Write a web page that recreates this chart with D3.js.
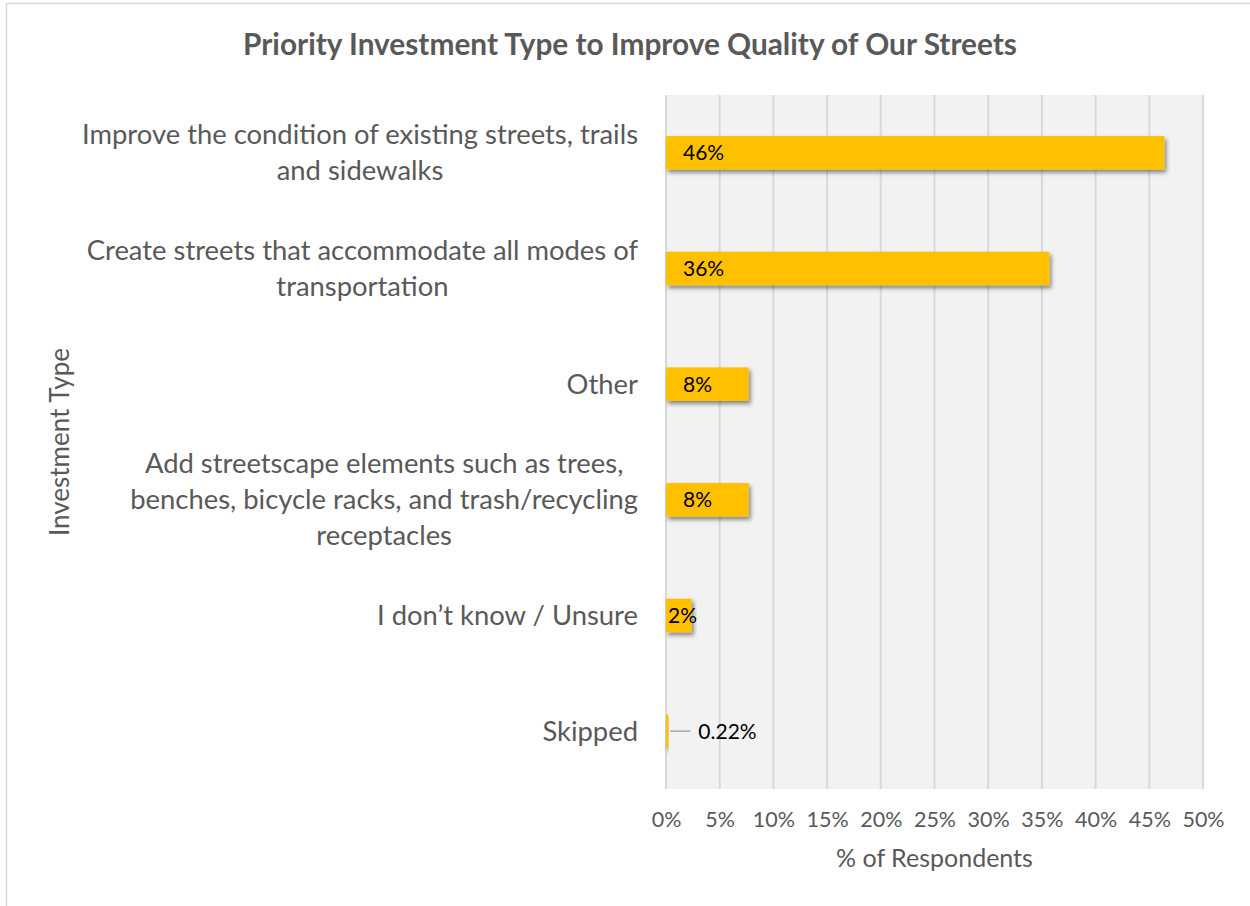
<!DOCTYPE html>
<html>
<head>
<meta charset="utf-8">
<script src="https://cdn.jsdelivr.net/npm/d3@7"></script>
<style>
  body { margin: 0; background: #fff; }
  svg { display: block; font-family: Lato, "Open Sans", sans-serif; }
</style>
</head>
<body>
<div id="chart"></div>
<script>
// chart data
var categoryLines = [
	["Improve the condition of existing streets, trails", "and sidewalks"],
	["Create streets that accommodate all modes of", "transportation"],
	["Other"],
	["Add streetscape elements such as trees,", "benches, bicycle racks, and trash/recycling", "receptacles"],
	["I don\u2019t know / Unsure"],
	["Skipped"]
];
var categories = categoryLines.map(function (l) { return l.join(" "); });
var values = [46.4, 35.7, 7.7, 7.7, 2.4, 0.22];
var valueLabels = ["46%", "36%", "8%", "8%", "2%", "0.22%"];
var xTicks = [0, 5, 10, 15, 20, 25, 30, 35, 40, 45, 50];

var W = 1250, H = 906;
var textColor = "#595959";
var plot = { left: 666, right: 1203, top: 95, bottom: 789 };

var svg = d3.select("#chart").append("svg")
	.attr("width", W).attr("height", H);

var defs = svg.append("defs");
var shadow = defs.append("filter").attr("id", "shadow")
	.attr("x", "-10%").attr("y", "-30%").attr("width", "130%").attr("height", "180%");
shadow.append("feDropShadow")
	.attr("dx", 2).attr("dy", 3).attr("stdDeviation", 2.2)
	.attr("flood-color", "#000").attr("flood-opacity", 0.45);

// chart border
svg.append("rect")
	.attr("x", 6.5).attr("y", 3.5).attr("width", W + 10).attr("height", H + 10)
	.attr("fill", "#fff").attr("stroke", "#d9d9d9").attr("stroke-width", 1.5);

var x = d3.scaleLinear().domain([0, 50]).range([plot.left, plot.right]);
var y = d3.scaleBand().domain(categories).range([plot.top, plot.bottom])
	.paddingInner(0.71).paddingOuter(0.355);

// plot area
svg.append("rect")
	.attr("x", plot.left).attr("y", plot.top)
	.attr("width", plot.right - plot.left).attr("height", plot.bottom - plot.top)
	.attr("fill", "#f2f2f2");

svg.append("g").selectAll("line").data(xTicks)
	.enter().append("line")
	.attr("x1", function (d) { return x(d); })
	.attr("x2", function (d) { return x(d); })
	.attr("y1", plot.top).attr("y2", plot.bottom)
	.attr("stroke", "#d9d9d9").attr("stroke-width", 2);

// x axis tick labels
var xAxis = d3.axisBottom(x).tickValues(xTicks)
	.tickFormat(function (d) { return d + "%"; })
	.tickSize(0).tickPadding(0);
var xg = svg.append("g").attr("transform", "translate(0," + (plot.bottom + 23) + ")").call(xAxis);
xg.select(".domain").remove();
xg.selectAll("text").attr("fill", textColor).style("font-size", "21.5px")
	.style("font-family", "Lato, 'Open Sans', sans-serif");

// bars
svg.append("g").selectAll("rect").data(values)
	.enter().append("rect")
	.attr("x", x(0))
	.attr("y", function (d, i) { return y(categories[i]); })
	.attr("width", function (d) { return x(d) - x(0); })
	.attr("height", y.bandwidth())
	.attr("fill", "#ffc000")
	.attr("filter", "url(#shadow)");

// value labels
var labels = svg.append("g").selectAll("g").data(values)
	.enter().append("g")
	.attr("transform", function (d, i) {
		return "translate(0," + (y(categories[i]) + y.bandwidth() / 2) + ")";
	});

labels.each(function (d, i) {
	var g = d3.select(this);
	if (d < 1) {
		g.append("line")
			.attr("x1", x(d) + 2).attr("x2", x(d) + 22)
			.attr("y1", 0).attr("y2", 0)
			.attr("stroke", "#a6a6a6").attr("stroke-width", 1.5);
		g.append("text").attr("x", x(d) + 30).attr("dy", "0.35em")
			.attr("fill", "#000").style("font-size", "21px")
			.text(valueLabels[i]);
	} else {
		var lx = (x(d) - x(0) > 45) ? x(0) + 17 : x(0) + 2;
		g.append("text").attr("x", lx).attr("dy", "0.35em")
			.attr("fill", "#000").style("font-size", "21px")
			.text(valueLabels[i]);
	}
});

// category labels, lines centred, block right aligned to 638
var lineH = 36;
var catG = svg.append("g").selectAll("g").data(categoryLines)
	.enter().append("g");

catG.each(function (lines, i) {
	var g = d3.select(this);
	var cy = y(categories[i]) + y.bandwidth() / 2;
	var t = g.selectAll("text").data(lines).enter().append("text")
		.attr("text-anchor", "middle")
		.attr("y", function (d, j) { return cy + (j - (lines.length - 1) / 2) * lineH; })
		.attr("dy", "0.35em")
		.attr("fill", textColor).style("font-size", "27.4px")
		.text(function (d) { return d; });
	var maxW = 0;
	t.each(function () { maxW = Math.max(maxW, this.getComputedTextLength()); });
	g.attr("transform", "translate(" + (638 - maxW / 2) + ",0)");
});

// titles
svg.append("text").attr("x", 630).attr("y", 45).attr("dy", "0.35em")
	.attr("text-anchor", "middle").attr("fill", textColor)
	.style("font-size", "29.8px").style("font-weight", "bold")
	.text("Priority Investment Type to Improve Quality of Our Streets");

svg.append("text").attr("x", (plot.left + plot.right) / 2).attr("y", 858).attr("dy", "0.35em")
	.attr("text-anchor", "middle").attr("fill", textColor)
	.style("font-size", "25px")
	.text("% of Respondents");

svg.append("text")
	.attr("transform", "translate(60," + 442 + ") rotate(-90)")
	.attr("dy", "0.35em")
	.attr("text-anchor", "middle").attr("fill", textColor)
	.style("font-size", "26px")
	.text("Investment Type");
</script>
</body>
</html>
